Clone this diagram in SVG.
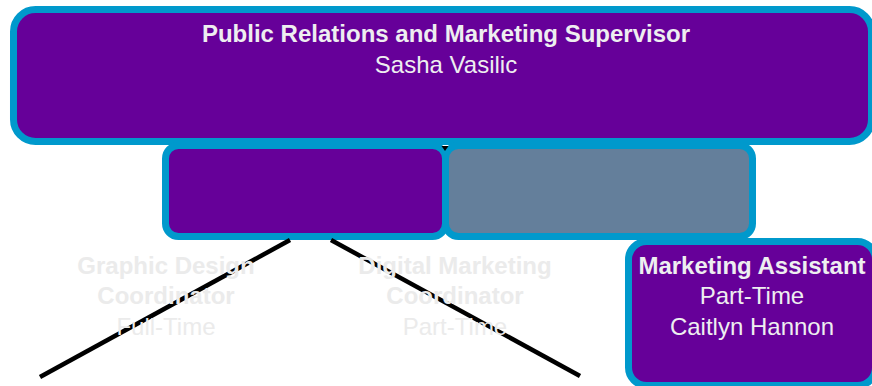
<svg xmlns="http://www.w3.org/2000/svg" width="872" height="386" viewBox="0 0 872 386">
<style>
.box{stroke:#0099CC;stroke-width:7}
.p{fill:#660099}
.g{fill:#647F9B}
.t{font-family:"Liberation Sans",Arial,sans-serif;font-size:24px;text-anchor:middle;fill:#EEEEF0}
.b{font-weight:bold}
.f{fill:#EBEBEB}
.c{stroke:#000;stroke-width:4.5;fill:none}
</style>
<rect width="872" height="386" fill="#FFFFFF"/>
<g id="supervisor">
<rect class="box p" x="13.5" y="9.5" width="858" height="132" rx="22"/>
<text class="t b" x="446" y="42">Public Relations and Marketing Supervisor</text>
<text class="t" x="446" y="73">Sasha Vasilic</text>
</g>
<g id="left-box">
<rect class="box p" x="165.5" y="145.5" width="280" height="91" rx="13"/>
</g>
<g id="grey-box">
<rect class="box g" x="445.5" y="145.5" width="307" height="91" rx="13"/>
</g>
<g id="assistant">
<rect class="box p" x="628.5" y="241.5" width="247" height="144" rx="18"/>
<text class="t b" x="752" y="274">Marketing Assistant</text>
<text class="t" x="752" y="304">Part-Time</text>
<text class="t" x="752" y="335">Caitlyn Hannon</text>
</g>
<g id="connectors">
<line class="c" x1="290" y1="240" x2="40" y2="377"/>
<line class="c" x1="331" y1="240" x2="580" y2="376"/>
<polygon points="441.5,146 448.5,146 445,151" fill="#000"/>
</g>
<g id="graphic-design">
<text class="t b f" x="166" y="274">Graphic Design</text>
<text class="t b f" x="166" y="304">Coordinator</text>
<text class="t f" x="166" y="335">Full-Time</text>
</g>
<g id="digital-marketing">
<text class="t b f" x="455" y="274">Digital Marketing</text>
<text class="t b f" x="455" y="304">Coordinator</text>
<text class="t f" x="455" y="335">Part-Time</text>
</g>
</svg>
